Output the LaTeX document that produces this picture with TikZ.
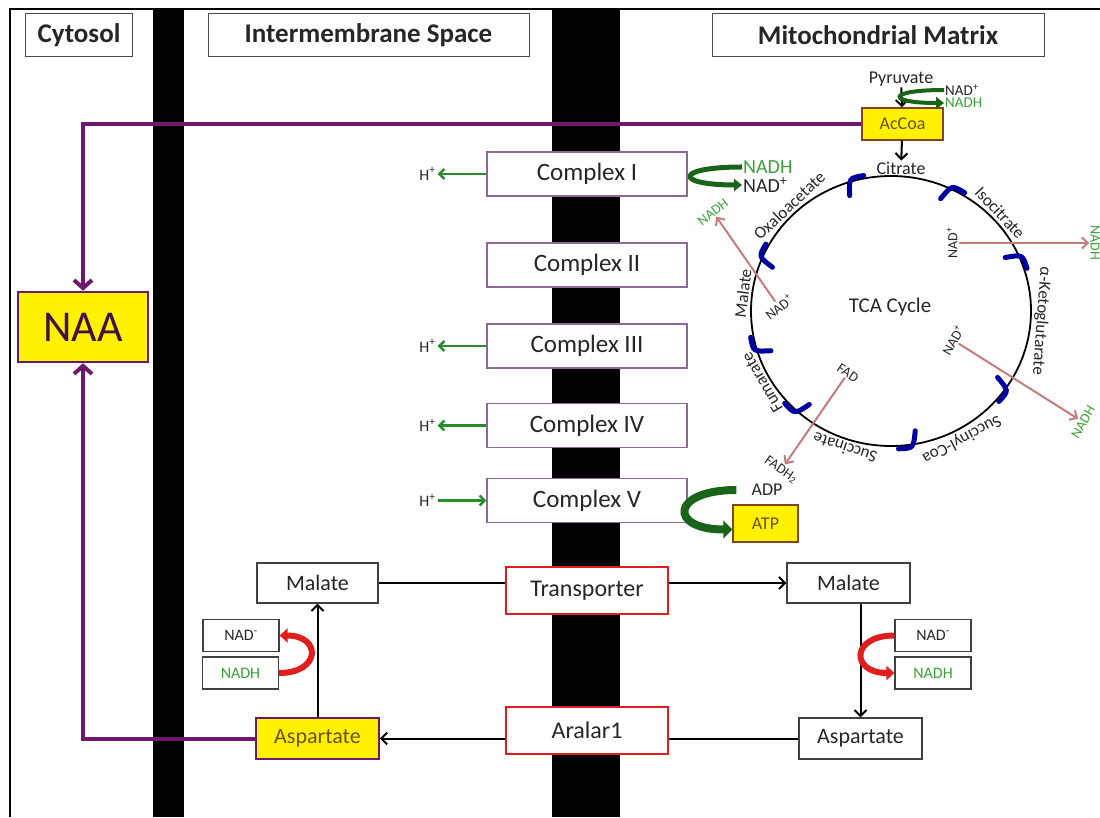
\documentclass[tikz,border=0pt]{standalone}
\usepackage{fontspec}
\setmainfont{Carlito}
\usepackage{xcolor}
\usetikzlibrary{arrows.meta,calc}

\definecolor{naapurple}{RGB}{110,25,110}
\definecolor{cplxborder}{RGB}{140,105,150}
\definecolor{hgreen}{RGB}{40,140,40}
\definecolor{dkgreen}{RGB}{25,100,25}
\definecolor{txtgreen}{RGB}{60,160,60}
\definecolor{redox}{RGB}{195,125,125}
\definecolor{hookblue}{RGB}{0,0,160}
\definecolor{trred}{RGB}{225,30,30}
\definecolor{boxbrown}{RGB}{130,70,30}
\definecolor{txtbrown}{RGB}{110,80,20}
\newcommand{\sz}[1]{\fontsize{#1}{#1}\selectfont}

\begin{document}
\begin{tikzpicture}[x=1pt, y=1pt, text=black!85,
  hdr/.style={draw=black!70, line width=1pt, inner sep=0pt, minimum width=#1, minimum height=43pt, font=\sz{27}\bfseries},
  cplx/.style={draw=cplxborder, fill=white, line width=1.2pt, inner sep=0pt, minimum width=200pt, minimum height=44pt, font=\sz{25}},
  molbox/.style={draw=black!75, fill=white, line width=1.2pt, inner sep=0pt, minimum width=122pt, minimum height=40pt, font=\sz{22}},
  trbox/.style={draw=trred, fill=white, line width=2.5pt, inner sep=0pt, minimum width=162pt, minimum height=47pt, font=\sz{24}},
  yel/.style={draw=boxbrown, fill=yellow, line width=1.5pt, inner sep=0pt, font=\sz{18}, text=txtbrown},
  nadbox/.style={draw=black!75, fill=white, line width=1.2pt, inner sep=0pt, minimum width=76pt, minimum height=32pt, font=\sz{16}},
  lbl/.style={font=\sz{14}, inner sep=1pt},
  lblg/.style={font=\sz{14}, inner sep=1pt, text=txtgreen},
  blk/.style={draw=black, line width=2pt, -{Straight Barb[length=6pt,width=12pt]}},
  purp/.style={draw=naapurple, line width=4pt, -{Straight Barb[length=8pt,width=18pt]}},
  harr/.style={draw=hgreen, line width=2.5pt, -{Straight Barb[length=5pt,width=10pt]}},
  gcurve/.style={draw=dkgreen, line width=5pt, -{Triangle[length=8pt,width=12pt]}},
  redarr/.style={draw=redox, line width=2pt, -{Straight Barb[length=6pt,width=11pt]}},
  redcurve/.style={draw=trred, line width=6pt, -{Triangle[length=8pt,width=14pt]}},
  hookarc/.style={draw=hookblue, line width=5pt, line cap=round}]
\useasboundingbox (0,0) rectangle (1100,817);

% frame and membranes
\draw[line width=2pt] (10,0) -- (10,808) -- (1100,808);
\fill (153,0) rectangle (184,808);
\fill (552,0) rectangle (620,808);

% compartments
\node[hdr=107pt] (hCyt) at (79,782) {Cytosol};
\node[hdr=321pt] (hIms) at (368.5,782) {Intermembrane Space};
\node[hdr=332pt] (hMat) at (878,782) {Mitochondrial Matrix};

% respiratory chain
\foreach \n/\y/\lab in {1/643/Complex I, 2/552/Complex II, 3/471/Complex III, 4/391.5/Complex IV, 5/316.5/Complex V}
  \node[cplx] (c\n) at (587,\y) {\lab};
\foreach \n in {1,3,4,5}
  \node[font=\sz{16}, inner sep=2pt] (h\n) at ($(c\n.west)+(-59,0)$) {H\textsuperscript{+}};
\foreach \n in {1,3,4}
  \draw[harr] (c\n.west) -- (h\n.east);
\draw[harr] (h5.east) -- (c5.west);

% NAA
\node[draw=naapurple, fill=yellow, line width=2.5pt, inner sep=0pt, minimum width=130pt, minimum height=70pt, font=\sz{44}, text=naapurple!60!black] (naa) at (83,490) {NAA};

% pyruvate -> AcCoa -> citrate
\node[font=\sz{18}, inner sep=1pt] (pyr) at (901,738) {Pyruvate};
\node[yel, minimum width=81pt, minimum height=32pt] (accoa) at (902.5,693) {AcCoa};
\node[font=\sz{18}, inner sep=1pt] (cit) at (901,649) {Citrate};
\draw[blk] (pyr) -- (accoa);
\draw[blk] (accoa) -- (cit);
\node[font=\sz{15}, inner sep=1pt, anchor=west] (nadP) at (944,727) {NAD\textsuperscript{+}};
\node[font=\sz{15}, inner sep=1pt, anchor=west, text=txtgreen] (nadhP) at (944,714) {NADH};
\draw[gcurve, line width=4pt] (nadP.west) .. controls +(-58,0) and +(-58,0) .. (nadhP.west);

% complex I redox
\node[font=\sz{20}, inner sep=1pt, anchor=west, text=txtgreen] (nadhC) at (742,650) {NADH};
\node[font=\sz{20}, inner sep=1pt, anchor=west] (nadC) at (742,632) {NAD\textsuperscript{+}};
\draw[gcurve] (nadhC.west) .. controls +(-68,0) and +(-68,0) .. (nadC.west);

% complex V
\node[font=\sz{18}, inner sep=1pt] (adp) at (767,327) {ADP};
\node[yel, minimum width=65pt, minimum height=37pt] (atp) at (765.5,293.5) {ATP};
\draw[gcurve, line width=8pt, -{Triangle[length=9pt,width=18pt]}] ([xshift=-14pt]adp.west) .. controls +(-66,0) and +(-64,0) .. ([yshift=-6pt]atp.west);

% TCA cycle
\coordinate (tca) at (891,506);
\draw[line width=1.8pt] (tca) ellipse [x radius=140, y radius=135];
\node[font=\sz{21}] (tcalab) at (890,510) {TCA Cycle};
\foreach \a/\t/\k in {133/Oxaloacetate/oxa, 43/Isocitrate/iso, -4/α-Ketoglutarate/akg, -62/Succinyl-Coa/sco, -108/Succinate/suc, -150/Fumarate/fum, 173/Malate/mal}
  \node[font=\sz{17}, anchor=south, rotate=\a-90, inner sep=1pt] (\k) at ($(tca)+(\a:142 and 137)$) {\t};
\foreach \a in {107,65,24,-35,-81,-132,-163,157}
  \draw[hookarc] ($(tca)+(\a+2:127 and 122)$) .. controls ($(tca)+(\a:144 and 139)$) .. ($(tca)+(\a-6:143 and 138)$);

% redox steps of the cycle
\node[lbl, rotate=90] (nadIso) at (952,574) {NAD\textsuperscript{+}};
\node[lblg, rotate=-90] (nadhIso) at (1095,574) {NADH};
\draw[redarr] (nadIso) -- (nadhIso);
\node[lbl, rotate=60] (nadKg) at (953,477) {NAD\textsuperscript{+}};
\node[lblg, rotate=60] (nadhKg) at (1083,395) {NADH};
\draw[redarr] (nadKg) -- (nadhKg);
\node[lbl, rotate=-34] (fad) at (848,444) {FAD};
\node[lbl, rotate=-34] (fadh) at (781,347) {FADH\textsubscript{2}};
\draw[redarr] (fad) -- (fadh);
\node[lbl, rotate=38] (nadMal) at (779,510) {NAD\textsuperscript{+}};
\node[lblg, rotate=38] (nadhMal) at (713,605) {NADH};
\draw[redarr] (nadMal) -- (nadhMal);

% malate-aspartate shuttle
\node[molbox, minimum width=121pt] (malL) at (317.5,234) {Malate};
\node[molbox, minimum width=123pt] (malR) at (848.5,234) {Malate};
\draw[blk] (malL) -- (malR);
\node[trbox] (trans) at (587,226.5) {Transporter};
\node[molbox, draw=naapurple, fill=yellow, text=txtbrown, line width=1.5pt, minimum width=123pt, minimum height=41pt] (aspL) at (317.5,78.5) {Aspartate};
\node[molbox, minimum width=123pt, minimum height=41pt] (aspR) at (860.5,78.5) {Aspartate};
\draw[blk] (aspR) -- (aspL);
\node[trbox] (aral) at (587,86.5) {Aralar1};
\draw[blk] (aspL) -- (malL);
\draw[blk] (aspR.north |- malR.south) -- (aspR.north);

\node[nadbox] (nadL) at (241,181.5) {NAD\textsuperscript{-}};
\node[nadbox, text=txtgreen] (nadhL) at (240.5,144) {NADH};
\draw[redcurve] (nadhL.east) .. controls +(42,0) and +(42,0) .. (nadL.east);
\node[nadbox] (nadR) at (933,181.5) {NAD\textsuperscript{-}};
\node[nadbox, text=txtgreen] (nadhR) at (933,144) {NADH};
\draw[redcurve] (nadR.west) .. controls +(-44,0) and +(-44,0) .. (nadhR.west);

% to NAA
\draw[purp] (accoa.west) -| (naa.north);
\draw[purp] (aspL.west) -| (naa.south);
\end{tikzpicture}
\end{document}
